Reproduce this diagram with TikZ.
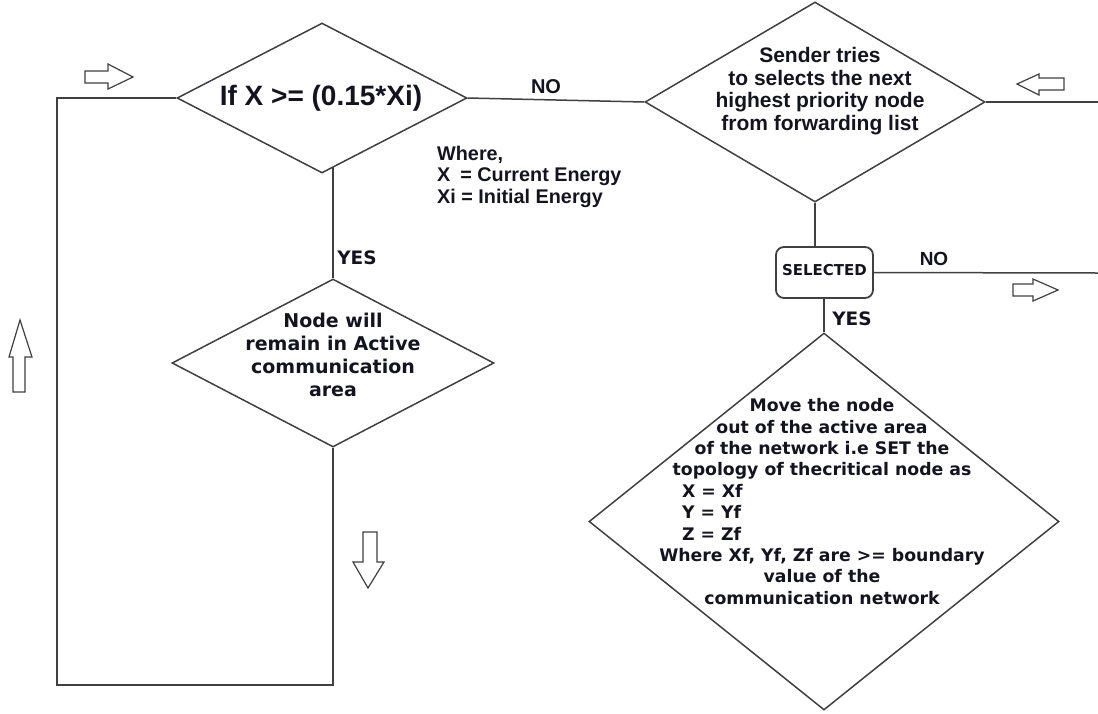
\documentclass[tikz,border=0pt]{standalone}
\usepackage{fontspec}
\newfontfamily\lsans{Liberation Sans}
\newfontfamily\dvsans{DejaVu Sans}
\usetikzlibrary{shapes.geometric,backgrounds,calc}
\definecolor{linec}{HTML}{404040}
\definecolor{txtc}{HTML}{141420}
\begin{document}
\begin{tikzpicture}[x=1pt,y=-1pt,
  diam/.style={shape=diamond, draw=linec, line width=1.5pt, fill=white, inner sep=0pt},
  selbox/.style={draw=linec, line width=1.8pt, fill=white, rounded corners=8pt, inner sep=0pt,
     text=txtc, font=\dvsans\bfseries\fontsize{15}{18}\selectfont},
  conn/.style={draw=linec, line width=1.5pt},
  blockarrow/.style={draw=linec, line width=1.2pt, fill=white, line join=miter},
  txt/.style={text=txtc, inner sep=0pt},
  arialtxt/.style={txt, font=\lsans\bfseries\fontsize{#1}{#1}\selectfont},
  verdtxt/.style={txt, font=\dvsans\bfseries\fontsize{#1}{#1}\selectfont}]
\useasboundingbox (0,0) rectangle (1098,713);

% shapes
\node[diam, minimum width=290pt, minimum height=150pt] (d1) at (322,98) {};
\node[diam, minimum width=340pt, minimum height=200pt] (d3) at (815,102) {};
\node[diam, minimum width=322pt, minimum height=168pt] (d2) at (333,363) {};
\node[selbox, minimum width=97pt, minimum height=51pt] (sel) at (824.5,272.5) {\raisebox{6pt}{SELECTED}};
\node[diam, minimum width=470pt, minimum height=377pt] (d4) at (824,521.5) {};

% texts
\node[arialtxt=28] (t1) at (321,98) {If X >= (0.15*Xi)};
\node[txt, align=center, font=\lsans\bfseries\fontsize{21}{22.7}\selectfont] (t3) at (820,91)
  {Sender tries\\to selects the next\\highest priority node\\from forwarding list};
\node[txt, align=center, font=\dvsans\bfseries\fontsize{19}{23}\selectfont] (t2) at (333,354.5)
  {Node will\\remain in Active\\communication\\area};
\node[txt, align=center, font=\dvsans\bfseries\fontsize{17.3}{21.4}\selectfont] (t4) at (822,501.5)
  {Move the node\\out of the active area\\of the network i.e SET the\\topology of thecritical node as\\
   \makebox[300pt][l]{\hspace*{10pt}X = Xf}\\\makebox[300pt][l]{\hspace*{10pt}Y = Yf}\\\makebox[300pt][l]{\hspace*{10pt}Z = Zf}\\
   Where Xf, Yf, Zf are >= boundary\\value of the\\communication network};
\node[txt, anchor=west, align=left, font=\lsans\bfseries\fontsize{19.8}{21.5}\selectfont] (tw) at (437,176.5)
  {Where,\\X\enspace = Current Energy\\Xi = Initial Energy};

% labels
\node[arialtxt=20] (no1) at (546,87) {NO};
\node[arialtxt=19] (no2) at (934,259) {NO};
\node[verdtxt=18.5] (yes1) at (357,258) {YES};
\node[verdtxt=18.5] (yes2) at (852,319) {YES};

% connectors
\coordinate (lb) at (57,685);
\coordinate (r1) at (1098,102);
\coordinate (r2) at (1098,273);
\begin{scope}[on background layer]
\draw[conn] (d2.south) |- (lb) |- (d1.west);
\draw[conn] (d2.north) -- (d2.north |- d1.center);
\draw[conn] (d1.east) -- (d3.west);
\draw[conn] (d3.east) -- (r1);
\draw[conn] (d3.south) -- (d3.south |- sel.north);
\draw[conn] (sel.east) -- (r2);
\draw[conn] (d4.north) -- (d4.north |- sel.south);
\end{scope}

% block arrows
\draw[blockarrow] (85,71) -- (108,71) -- (108,64) -- (133,77) -- (108,89) -- (108,83) -- (85,83) -- cycle;
\draw[blockarrow] (1064,78) -- (1039,78) -- (1039,74) -- (1017,84) -- (1039,95) -- (1039,90) -- (1064,90) -- cycle;
\draw[blockarrow] (1013,284) -- (1033,284) -- (1033,279) -- (1058,290) -- (1033,301) -- (1033,296) -- (1013,296) -- cycle;
\draw[blockarrow] (13,392) -- (13,357) -- (9,357) -- (20,320) -- (32,357) -- (25,357) -- (25,392) -- cycle;
\draw[blockarrow] (363,532) -- (377,532) -- (377,562) -- (384,562) -- (368,588) -- (353,562) -- (363,562) -- cycle;
\end{tikzpicture}
\end{document}
